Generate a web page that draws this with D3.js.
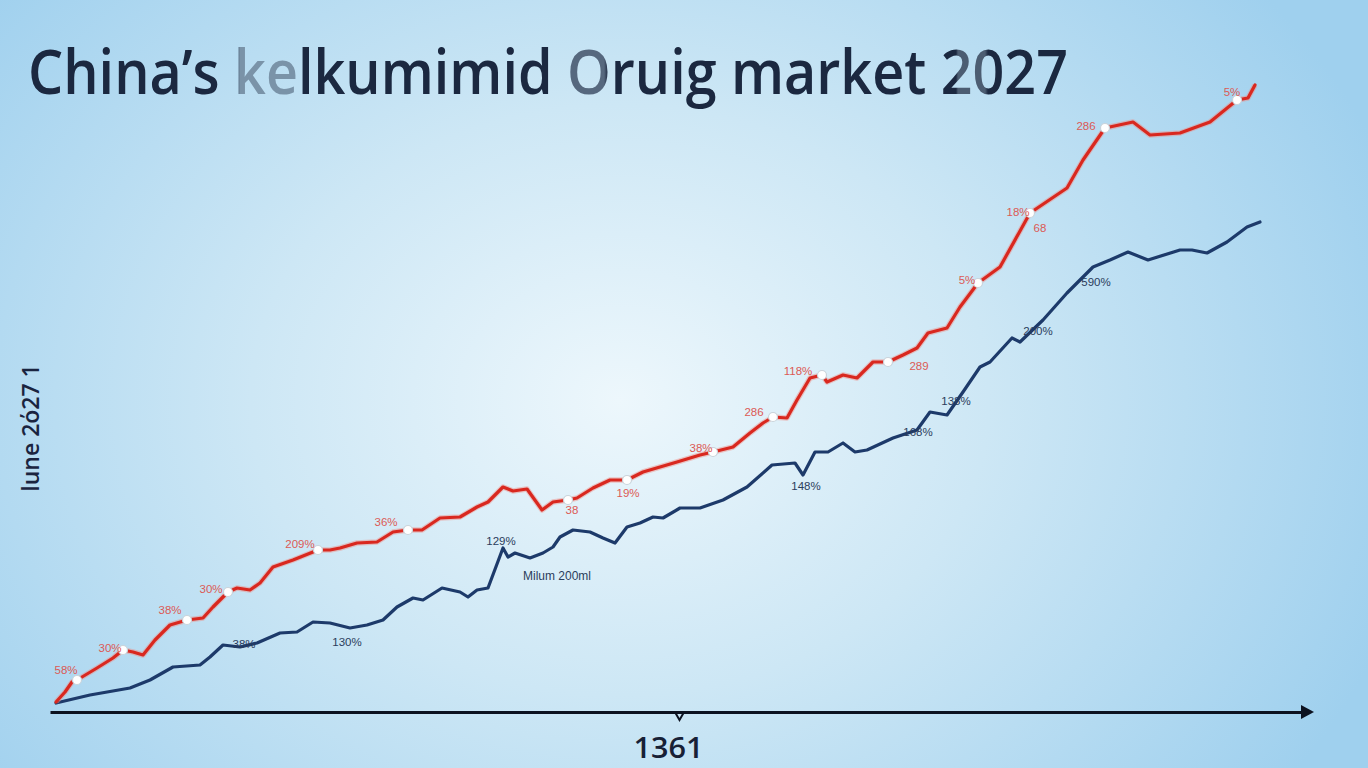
<!DOCTYPE html>
<html>
<head>
<meta charset="utf-8">
<script src="https://cdn.jsdelivr.net/npm/d3@7"></script>
<style>
html,body{margin:0;padding:0;overflow:hidden;background:#cfe8f6;}
svg{display:block;}
</style>
</head>
<body>
<svg id="chart" width="1368" height="768"></svg>
<script>
// ---------- data ----------
const titleText = "China’s kelkumimid Oruig market 2027";
const yAxisLabel = "lune 2ό27 1";
const xTickValues = [624];
const xTickLabels = ["1361"];

const redX = [1,10,17,22,42,58,68,78,88,100,115,132,148,158,173,182,195,205,218,238,263,275,285,302,322,338,353,367,385,405,422,433,448,458,472,487,498,513,522,538,555,572,588,605,622,645,658,678,695,708,718,732,742,755,767,772,788,802,818,833,848,862,873,892,905,923,945,975,1012,1028,1050,1078,1095,1125,1155,1182,1193,1200];
const redY = [3,13,23,25,37,47,55,53,50,65,80,85,87,98,113,117,115,122,138,145,155,155,157,162,163,173,175,175,187,188,198,203,218,214,216,195,203,205,207,217,225,225,233,238,243,250,253,258,272,282,288,287,305,327,330,323,330,327,343,343,350,357,372,377,398,422,438,492,517,545,577,583,570,572,583,605,607,620];
const redMarkersX = [22,68,132,173,263,353,513,572,658,718,767,833,923,975,1050,1182];

const blueX = [1,35,75,95,118,145,155,168,185,202,225,242,258,275,295,312,328,342,358,368,387,405,413,422,433,448,453,460,475,488,498,505,518,535,548,560,572,585,598,608,625,645,668,692,717,740,748,760,773,788,800,812,838,862,875,892,908,925,935,957,965,988,1012,1038,1055,1073,1093,1125,1137,1152,1172,1192,1205];
const blueY = [2,10,17,25,38,40,48,60,58,62,72,73,83,82,77,80,85,98,107,105,117,113,108,115,117,157,148,152,147,152,158,168,175,173,167,162,178,182,188,187,197,197,205,218,240,242,230,253,253,262,253,255,267,275,293,290,313,338,343,367,363,385,412,438,445,453,445,455,455,452,463,478,483];

const redLabelText = ["58%","30%","38%","30%","209%","36%","38","19%","38%","286","118%","289","5%","18%","68","286","5%"];
const redLabelX = [11,55,115,156,245,331,517,573,646,699,743,864,912,963,985,1031,1177];
const redLabelY = [31,53,91,112,157,179,191,208,253,289,330,335,421,489,473,575,609];

const blueLabelText = ["38%","130%","129%","Milum 200ml","148%","168%","138%","200%","590%"];
const blueLabelX = [189,292,446,502,751,863,901,983,1041];
const blueLabelY = [57,59,160,125,215,269,300,370,419];

// ---------- drawing ----------
const W = 1368, H = 768;
const svg = d3.select("#chart");
const defs = svg.append("defs");

const grad = defs.append("radialGradient").attr("id","bg")
  .attr("gradientUnits","userSpaceOnUse")
  .attr("cx",620).attr("cy",400).attr("r",820)
  .attr("gradientTransform","translate(620,400) scale(1,0.8) translate(-620,-400)");
grad.append("stop").attr("offset","0%").attr("stop-color","#edf7fc");
grad.append("stop").attr("offset","45%").attr("stop-color","#cde7f5");
grad.append("stop").attr("offset","100%").attr("stop-color","#9fd0ee");
svg.append("rect").attr("width",W).attr("height",H).attr("fill","url(#bg)");

// title fill: dark with faded patches over "ke" and "O"
const tg = defs.append("linearGradient").attr("id","titleFill")
  .attr("gradientUnits","userSpaceOnUse")
  .attr("x1",0).attr("x2",W).attr("y1",0).attr("y2",0);
const dark = "#1b2840", faded = "#7a93a8", mid = "#56687e";
[[0,dark],[236,dark],[240,faded],[296,faded],[300,dark],[566,dark],[570,mid],[604,mid],[608,dark],[956,dark],[958,"#4c5d72"],[985,"#4c5d72"],[988,dark],[W,dark]]
  .forEach(([o,c])=>tg.append("stop").attr("offset",o/W).attr("stop-color",c));

const x = d3.scaleLinear().domain([0,1210]).range([55,1265]);
const y = d3.scaleLinear().domain([0,625]).range([705,80]);

// title
svg.append("text")
  .attr("x",28).attr("y",94)
  .attr("font-family","'Open Sans', 'DejaVu Sans', sans-serif")
  .attr("font-weight",600)
  .attr("font-size",62)
  .attr("fill","url(#titleFill)")
  .attr("textLength",1040)
  .attr("lengthAdjust","spacingAndGlyphs")
  .text(titleText);

// y axis label
svg.append("text")
  .attr("transform","translate(39,428) rotate(-90)")
  .attr("text-anchor","middle")
  .attr("font-family","'Open Sans', 'DejaVu Sans', sans-serif")
  .attr("font-weight",600)
  .attr("font-size",23)
  .attr("fill","#1a2440")
  .text(yAxisLabel);

// x axis
const axisG = svg.append("g").attr("transform","translate(0,712)");
const xAxis = d3.axisBottom(d3.scaleLinear().domain([-5,1250]).range([50,1305]))
  .tickValues(xTickValues)
  .tickFormat((d,i)=>xTickLabels[i])
  .tickSizeOuter(0).tickSize(0);
axisG.call(xAxis);
axisG.select(".domain").attr("stroke","#0c1220").attr("stroke-width",3);
axisG.selectAll(".tick").append("path")
  .attr("d","M-4,1 L0,8 L4,1").attr("fill","none")
  .attr("stroke","#0c1220").attr("stroke-width",2);
axisG.selectAll(".tick text")
  .attr("y",26).attr("dy","0.71em")
  .attr("dx",-11)
  .attr("font-family","'Open Sans', 'DejaVu Sans', sans-serif")
  .attr("font-weight",600)
  .attr("font-size",28)
  .attr("fill","#172036")
  .attr("textLength",70).attr("lengthAdjust","spacingAndGlyphs");
axisG.append("path").attr("d","M1301,-7 L1314,0 L1301,7 Z").attr("fill","#0c1220");

// lines
const red = redX.map((d,i)=>[d,redY[i]]);
const blue = blueX.map((d,i)=>[d,blueY[i]]);
const line = d3.line().x(d=>x(d[0])).y(d=>y(d[1]));

svg.append("path").datum(blue).attr("d",line)
  .attr("fill","none").attr("stroke","#1d3a6a").attr("stroke-width",3.2)
  .attr("stroke-linejoin","round").attr("stroke-linecap","round");
svg.append("path").datum(red).attr("d",line)
  .attr("fill","none").attr("stroke","#ef8a80").attr("stroke-width",5.5).attr("opacity",0.45)
  .attr("stroke-linejoin","round");
svg.append("path").datum(red).attr("d",line)
  .attr("fill","none").attr("stroke","#d9281f").attr("stroke-width",3.2)
  .attr("stroke-linejoin","round").attr("stroke-linecap","round");

// markers
const interpRed = xv => {
  const i = redX.indexOf(xv);
  return i >= 0 ? redY[i] : d3.scaleLinear().domain(redX).range(redY)(xv);
};
svg.selectAll("circle.mk").data(redMarkersX).join("circle")
  .attr("class","mk")
  .attr("cx",d=>x(d)).attr("cy",d=>y(interpRed(d)))
  .attr("r",4.5).attr("fill","#ffffff").attr("stroke","#c9d3da").attr("stroke-width",1.2);

// labels
svg.selectAll("text.rl").data(redLabelText).join("text")
  .attr("class","rl")
  .attr("x",(d,i)=>x(redLabelX[i])).attr("y",(d,i)=>y(redLabelY[i]))
  .attr("text-anchor","middle")
  .attr("font-family","'Liberation Sans', Arial, sans-serif")
  .attr("font-size",11.5)
  .attr("fill","#dc5a55")
  .text(d=>d);

svg.selectAll("text.bl").data(blueLabelText).join("text")
  .attr("class","bl")
  .attr("x",(d,i)=>x(blueLabelX[i])).attr("y",(d,i)=>y(blueLabelY[i]))
  .attr("text-anchor","middle")
  .attr("font-family","'Liberation Sans', Arial, sans-serif")
  .attr("font-size",(d)=>d.length>6?12:11.5)
  .attr("fill","#2b3d5c")
  .text(d=>d);
</script>
</body>
</html>
